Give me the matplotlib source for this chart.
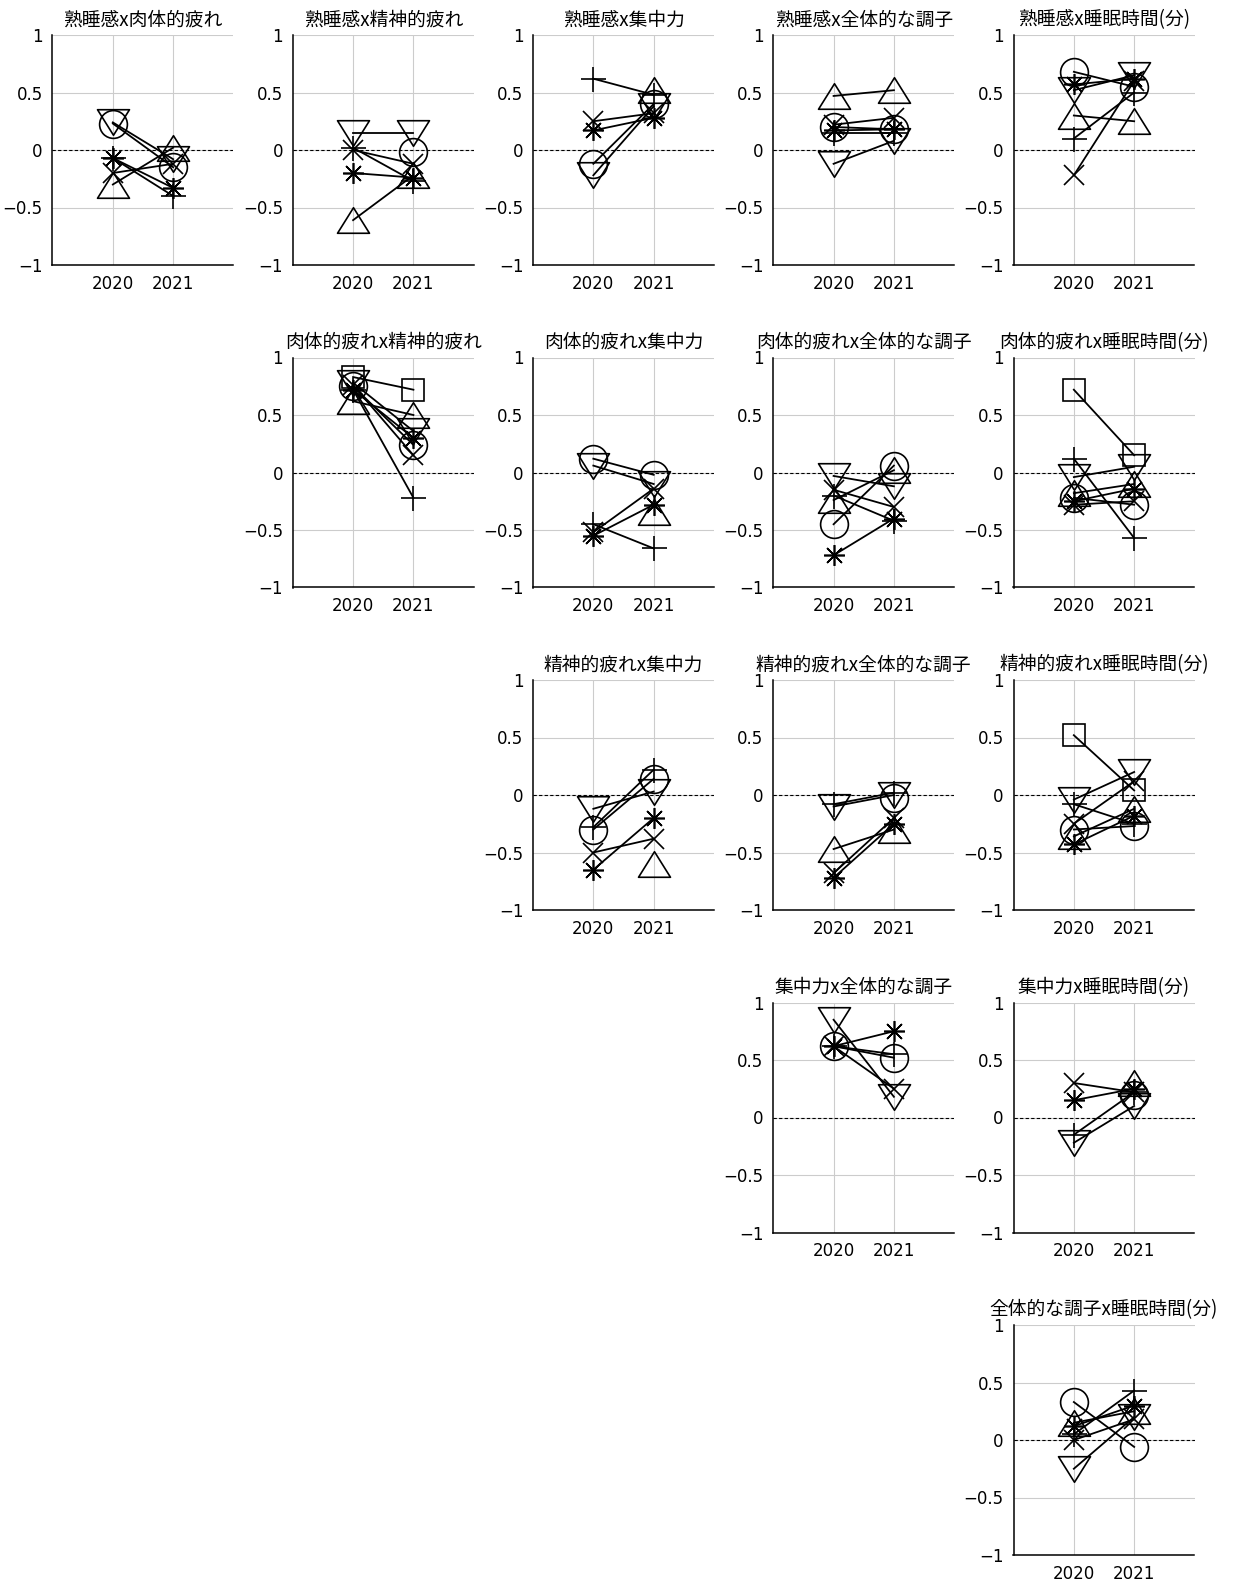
import numpy as np
import matplotlib
matplotlib.use("Agg")
import matplotlib.pyplot as plt
from matplotlib.path import Path

nan = np.nan

years = [2020, 2021]
variables = ["熟睡感", "肉体的疲れ", "精神的疲れ", "集中力", "全体的な調子", "睡眠時間(分)"]
participants = ["A", "B", "C", "D", "E", "F", "G"]

# Correlations per participant (rows: A..G), columns: 2020, 2021
sleep_body = [[0.23, -0.15], [0.24, -0.08], [-0.30, 0.02], [-0.07, -0.40],
              [-0.07, -0.33], [-0.20, -0.12], [nan, nan]]
sleep_mind = [[nan, -0.02], [0.15, 0.15], [-0.61, -0.22], [0.02, -0.27],
              [-0.20, -0.24], [0.00, -0.12], [nan, nan]]
sleep_focus = [[-0.12, 0.40], [-0.22, 0.38], [nan, 0.52], [0.62, 0.48],
               [0.17, 0.28], [0.25, 0.32], [nan, nan]]
sleep_overall = [[0.20, 0.18], [-0.12, 0.08], [0.47, 0.52], [0.15, 0.15],
                 [0.17, 0.18], [0.22, 0.28], [nan, nan]]
sleep_minutes = [[0.68, 0.55], [0.52, 0.65], [0.30, 0.25], [0.10, 0.50],
                 [0.57, 0.62], [-0.22, 0.60], [nan, nan]]
body_mind = [[0.75, 0.24], [0.78, 0.36], [0.62, 0.50], [0.72, -0.22],
             [0.72, 0.30], [0.76, 0.15], [0.83, 0.72]]
body_focus = [[0.12, -0.02], [0.06, -0.10], [nan, -0.34], [-0.45, -0.66],
              [-0.55, -0.28], [-0.52, -0.14], [nan, nan]]
body_overall = [[-0.45, 0.06], [-0.03, -0.12], [-0.24, 0.02], [-0.20, -0.42],
                [-0.72, -0.40], [-0.15, -0.30], [nan, nan]]
body_minutes = [[-0.22, -0.28], [-0.04, 0.05], [-0.18, -0.10], [0.12, -0.57],
                [-0.25, -0.14], [-0.28, -0.25], [0.72, 0.15]]
mind_focus = [[-0.30, 0.14], [-0.12, 0.03], [nan, -0.60], [-0.28, 0.22],
              [-0.65, -0.20], [-0.50, -0.38], [nan, nan]]
mind_overall = [[nan, -0.03], [-0.10, 0.00], [-0.47, -0.30], [-0.08, 0.02],
                [-0.72, -0.25], [-0.68, -0.20], [nan, nan]]
mind_minutes = [[-0.30, -0.27], [-0.04, 0.20], [-0.36, -0.12], [-0.08, -0.25],
                [-0.43, -0.18], [-0.25, 0.12], [0.52, 0.04]]
focus_overall = [[0.62, 0.52], [0.85, 0.18], [nan, nan], [0.62, 0.55],
                 [0.62, 0.75], [0.62, 0.25], [nan, nan]]
focus_minutes = [[nan, 0.20], [-0.22, 0.10], [nan, 0.30], [-0.15, 0.22],
                 [0.15, 0.25], [0.30, 0.22], [nan, nan]]
overall_minutes = [[0.33, -0.06], [-0.25, 0.20], [0.15, 0.25], [0.05, 0.43],
                   [0.12, 0.30], [0.00, 0.18], [nan, nan]]

pair_data = {
    (0, 1): sleep_body, (0, 2): sleep_mind, (0, 3): sleep_focus,
    (0, 4): sleep_overall, (0, 5): sleep_minutes,
    (1, 2): body_mind, (1, 3): body_focus, (1, 4): body_overall, (1, 5): body_minutes,
    (2, 3): mind_focus, (2, 4): mind_overall, (2, 5): mind_minutes,
    (3, 4): focus_overall, (3, 5): focus_minutes,
    (4, 5): overall_minutes,
}

# Marker shapes per participant (open, black)
tri_up = Path([(-1, -0.8), (1, -0.8), (0, 0.8), (-1, -0.8)], closed=True)
tri_down = Path([(-1, 0.8), (1, 0.8), (0, -0.8), (-1, 0.8)], closed=True)
marker_styles = [
    ("o", 20),
    (tri_down, 23),
    (tri_up, 23),
    ("+", 18),
    ((8, 2, 0), 15),
    ("x", 15),
    ("s", 16),
]

plt.rcParams["font.family"] = ["Noto Sans CJK JP", "DejaVu Sans"]
plt.rcParams["axes.unicode_minus"] = True

W, H = 1240, 1586
fig = plt.figure(figsize=(W / 100, H / 100), dpi=100)
fig.patch.set_facecolor("white")

col_left = [52.5, 292.75, 533.0, 773.25, 1013.5]
row_top = [35.0, 357.5, 680.0, 1002.5, 1325.0]
ax_w, ax_h = 181.0, 230.0

for (i, j), data in pair_data.items():
    r, c = i, j - 1
    left = col_left[c] / W
    bottom = 1 - (row_top[r] + ax_h) / H
    ax = fig.add_axes([left, bottom, ax_w / W, ax_h / H])

    ax.set_xlim(2019, 2022)
    ax.set_ylim(-1, 1)
    ax.set_xticks(years)
    ax.set_xticklabels([str(y) for y in years])
    ax.set_yticks([-1, -0.5, 0, 0.5, 1])
    ax.set_yticklabels(["\u22121", "\u22120.5", "0", "0.5", "1"])
    ax.grid(True, color="#cccccc", linewidth=0.8, zorder=0)
    ax.set_axisbelow(True)
    for s in ("top", "right"):
        ax.spines[s].set_visible(False)
    for s in ("left", "bottom"):
        ax.spines[s].set_linewidth(1.1)
        ax.spines[s].set_color("black")
    ax.tick_params(direction="in", length=0, pad=7, labelsize=12)
    for lab in ax.get_xticklabels() + ax.get_yticklabels():
        lab.set_fontfamily(["DejaVu Sans"])

    ax.axhline(0, color="black", linestyle=(0, (3, 2)), linewidth=0.8, zorder=1)

    for p, vals in enumerate(data):
        mk, ms = marker_styles[p]
        ax.plot(years, vals, color="black", linewidth=1.3,
                marker=mk, markersize=ms, markerfacecolor="none",
                markeredgecolor="black", markeredgewidth=1.2, zorder=3,
                clip_on=False)

    ax.set_title(f"{variables[i]}x{variables[j]}", fontsize=13.5, pad=7)

fig.savefig("out.png", dpi=100, facecolor="white")
